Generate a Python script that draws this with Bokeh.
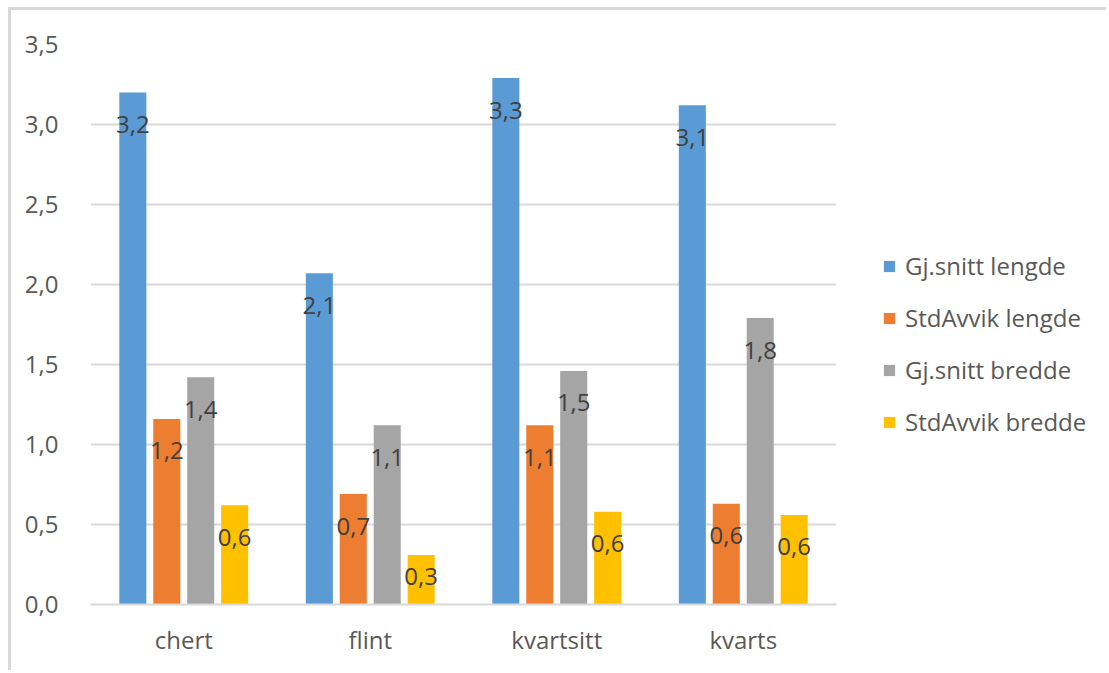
from bokeh.plotting import figure
from bokeh.layouts import row
from bokeh.models import ColumnDataSource, FactorRange, Range1d, Legend, LegendItem, FixedTicker, CustomJSTickFormatter
from bokeh.transform import dodge
from bokeh.core.properties import value
from bokeh.embed import file_html
from bokeh.resources import INLINE

categories = ["chert", "flint", "kvartsitt", "kvarts"]
gj_lengde = [3.20, 2.07, 3.29, 3.12]
std_lengde = [1.16, 0.69, 1.12, 0.63]
gj_bredde = [1.42, 1.12, 1.46, 1.79]
std_bredde = [0.62, 0.31, 0.58, 0.56]
series_names = ["Gj.snitt lengde", "StdAvvik lengde", "Gj.snitt bredde", "StdAvvik bredde"]
y_ticks = [0.0, 0.5, 1.0, 1.5, 2.0, 2.5, 3.0, 3.5]

series = [gj_lengde, std_lengde, gj_bredde, std_bredde]
colors = ["#5B9BD5", "#ED7D31", "#A5A5A5", "#FFC000"]
offsets = [-0.273, -0.091, 0.091, 0.273]
FONT = "Open Sans"
BORDER = "3px solid #d9d9d9"

data = {"cat": categories}
for i, s in enumerate(series):
    data[f"s{i}"] = s
    data[f"l{i}"] = [max(v - 0.2, 0.175) for v in s]
    data[f"t{i}"] = [f"{v:.1f}".replace(".", ",") for v in s]
src = ColumnDataSource(data)

H = 663
WP = 836
p = figure(
    x_range=FactorRange(*categories, range_padding=0),
    y_range=Range1d(0, 3.5),
    width=WP, height=H,
    output_backend="svg", toolbar_location=None,
    min_border_left=79, min_border_right=WP - 825,
    min_border_top=34, min_border_bottom=H - 594,
)
p.styles = {"border-top": BORDER, "border-left": BORDER}
p.outline_line_color = None
p.background_fill_color = "white"
p.border_fill_color = "white"

for i in range(4):
    p.vbar(x=dodge("cat", offsets[i], range=p.x_range), top=f"s{i}", width=0.145,
           source=src, fill_color=colors[i], line_color=None)
for i in range(4):
    p.text(x=dodge("cat", offsets[i], range=p.x_range), y=f"l{i}", text=f"t{i}", source=src,
           text_align="center", text_baseline="middle", text_color="#404040",
           text_font=value(FONT), text_font_size="24px")

p.xgrid.grid_line_color = None
p.ygrid.grid_line_color = "#d9d9d9"
p.ygrid.grid_line_width = 2
p.yaxis.ticker = FixedTicker(ticks=y_ticks)
p.yaxis.formatter = CustomJSTickFormatter(code="return tick.toFixed(1).replace('.', ',');")
for ax in (p.xaxis[0], p.yaxis[0]):
    ax.major_tick_line_color = None
    ax.minor_tick_line_color = None
    ax.major_label_text_font = FONT
    ax.major_label_text_font_size = "24px"
    ax.major_label_text_color = "#595959"
p.yaxis.axis_line_color = None
p.yaxis.major_label_standoff = 26
p.xaxis.axis_line_color = "#d9d9d9"
p.xaxis.axis_line_width = 2
p.xaxis.major_label_standoff = 12
p.xaxis.group_text_font_size = "0px"

# legend panel
WL = 1109 - 8 - 3 - WP
p2 = figure(width=WL, height=H, x_range=Range1d(0, 1), y_range=Range1d(0, 1),
            output_backend="svg", toolbar_location=None,
            x_axis_location=None, y_axis_location=None,
            min_border_left=0, min_border_right=0, min_border_top=0, min_border_bottom=0)
p2.styles = {"border-top": BORDER}
p2.xgrid.grid_line_color = None
p2.ygrid.grid_line_color = None
p2.outline_line_color = None
p2.background_fill_color = "white"
p2.border_fill_color = "white"

items = []
for i in range(4):
    r = p2.vbar(x=dodge("cat", offsets[i], range=p.x_range), top=f"s{i}", width=0.145,
                source=src, fill_color=colors[i], line_color=None, visible=False)
    items.append(LegendItem(label=series_names[i], renderers=[r]))

legend = Legend(items=items, location=(38, 166), orientation="vertical",
                label_text_font=FONT, label_text_font_size="24px", label_text_color="#595959",
                glyph_width=14, glyph_height=14, label_height=22, spacing=19, padding=0, margin=0,
                label_standoff=9, border_line_color=None, background_fill_alpha=0)
p2.add_layout(legend, "center")

layout = row(p, p2, margin=(7, 0, 0, 8), spacing=0)
open("out.html", "w").write(file_html(layout, INLINE))
